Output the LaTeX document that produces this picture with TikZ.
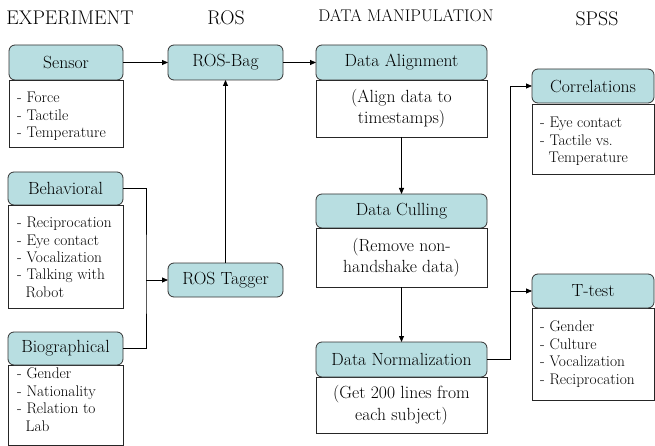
\documentclass[tikz,border=0pt]{standalone}
\usetikzlibrary{arrows.meta}
\definecolor{hdrcol}{RGB}{184,222,225}
\begin{document}
\begin{tikzpicture}[x=1pt,y=-1pt,
  hdr/.style={draw=black!80, line width=0.8pt, fill=hdrcol, rounded corners=6pt, anchor=north west, inner sep=0pt, outer sep=0pt, font=\fontsize{17.6}{20}\selectfont},
  bodybox/.style={draw=black!85, line width=0.8pt, fill=white, anchor=north west, inner sep=0pt, outer sep=0pt},
  listtext/.style={anchor=north west, align=left, inner sep=0pt, font=\fontsize{15.4}{17.4}\selectfont},
  desctext/.style={align=center, inner sep=0pt, font=\fontsize{17.6}{21.5}\selectfont},
  title/.style={inner sep=0pt, font=\fontsize{19.8}{24}\selectfont},
  conn/.style={line width=0.8pt, draw=black},
  arr/.style={conn, -{Triangle[length=6pt,width=5pt]}}
]
\useasboundingbox (0,0) rectangle (655,446);

% titles
\node[title] (t1) at (70,18) {EXPERIMENT};
\node[title] (t2) at (226,18) {ROS};
\node[title, font=\fontsize{16.9}{20}\selectfont] (t3) at (406,16) {DATA MANIPULATION};
\node[title] (t4) at (597,19) {SPSS};

% Sensor
\node[bodybox, minimum width=114pt, minimum height=67pt] (sensorb) at (9,80) {};
\node[hdr, minimum width=114pt, minimum height=35pt] (sensor) at (9,45) {Sensor};
\node[listtext] (sensort) at (17,92) {- Force\\- Tactile\\- Temperature};

% ROS-Bag
\node[hdr, minimum width=115pt, minimum height=35pt] (rosbag) at (168,45) {ROS-Bag};

% Data Alignment
\node[bodybox, minimum width=171pt, minimum height=57pt] (alignb) at (316,80) {};
\node[hdr, minimum width=171pt, minimum height=35pt] (align) at (316,45) {Data Alignment};
\node[desctext] (alignt) at (alignb.center) {(Align data to\\timestamps)};

% Correlations
\node[bodybox, minimum width=122pt, minimum height=70pt] (corrb) at (532,104) {};
\node[hdr, minimum width=122pt, minimum height=34pt] (corr) at (532,69) {Correlations};
\node[listtext] (corrt) at (540,117) {- Eye contact\\- Tactile vs.\\\hspace{0.55em}Temperature};

% Behavioral
\node[bodybox, minimum width=115pt, minimum height=103pt] (behb) at (8,205) {};
\node[hdr, minimum width=115pt, minimum height=33pt] (beh) at (8,172) {Behavioral};
\node[listtext] (beht) at (17,217) {- Reciprocation\\- Eye contact\\- Vocalization\\- Talking with\\\hspace{0.55em}Robot};

% Biographical
\node[bodybox, minimum width=115pt, minimum height=80pt] (biob) at (8,365) {};
\node[hdr, minimum width=115pt, minimum height=33pt] (bio) at (8,332) {Biographical};
\node[listtext] (biot) at (17,368) {- Gender\\- Nationality\\- Relation to\\\hspace{0.55em}Lab};

% ROS Tagger
\node[hdr, minimum width=115pt, minimum height=34pt] (tagger) at (168,263) {ROS Tagger};

% Data Culling
\node[bodybox, minimum width=171pt, minimum height=59pt] (cullb) at (316,228) {};
\node[hdr, minimum width=171pt, minimum height=34pt] (cull) at (316,194) {Data Culling};
\node[desctext] (cullt) at (cullb.center) {(Remove non-\\handshake data)};

% Data Normalization
\node[bodybox, minimum width=171pt, minimum height=56pt] (normb) at (316,377) {};
\node[hdr, minimum width=171pt, minimum height=35pt] (norm) at (316,342) {Data Normalization};
\node[desctext] (normt) at (normb.center) {(Get 200 lines from\\each subject)};

% T-test
\node[bodybox, minimum width=122pt, minimum height=92pt] (ttestb) at (532,308) {};
\node[hdr, minimum width=122pt, minimum height=34pt] (ttest) at (532,274) {T-test};
\node[listtext] (ttestt) at (540,321) {- Gender\\- Culture\\- Vocalization\\- Reciprocation};

% connectors
\coordinate (jl) at (146,280);
\coordinate (jr) at (510,291);
\draw[arr] (sensor.east) -- (rosbag.west);
\draw[arr] (rosbag.east) -- (align.west);
\draw[arr] (tagger.north) -- (rosbag.south);
\draw[conn] (beh.east) -| (jl) |- (bio.east);
\draw[arr] (jl) -- (tagger.west);
\draw[arr] (alignb.south) -- (cull.north);
\draw[arr] (cullb.south) -- (norm.north);
\draw[conn] (norm.east) -| (jr);
\draw[arr] (jr) |- (corr.west);
\draw[arr] (jr) -- (ttest.west);
\end{tikzpicture}
\end{document}
